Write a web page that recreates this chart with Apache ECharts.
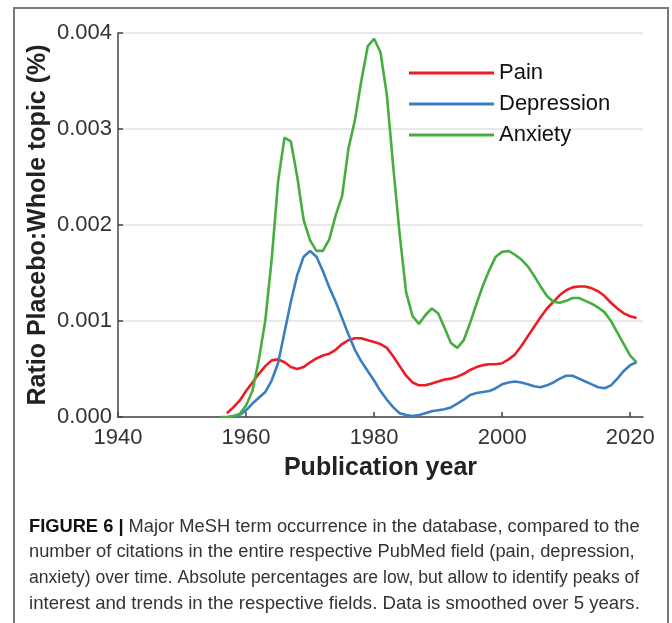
<!DOCTYPE html>
<html>
<head>
<meta charset="utf-8">
<script src="https://cdn.jsdelivr.net/npm/echarts@6/dist/echarts.min.js"></script>
<style>
html,body{margin:0;padding:0;background:#fff;}
#chart{width:672px;height:623px;}
</style>
</head>
<body>
<div id="chart"></div>
<script>
// ---- Data (ratio in %, yearly, smoothed over 5 years) ----
const xTicks = [1940, 1960, 1980, 2000, 2020];
const yTicks = [0, 0.001, 0.002, 0.003, 0.004];

const painStart = 1957;
const painValues = [
  0.00004, 0.00010, 0.00017, 0.00027, 0.00036, 0.00045, 0.00053, 0.00059, 0.00060, 0.00057,
  0.00052, 0.00050, 0.00052, 0.00057, 0.00061, 0.00064, 0.00066, 0.00070, 0.00076, 0.00080,
  0.00082, 0.00082, 0.00080, 0.00078, 0.00076, 0.00072, 0.00063, 0.00053, 0.00043, 0.00036,
  0.00033, 0.00033, 0.00035, 0.00037, 0.00039, 0.00040, 0.00042, 0.00045, 0.00049, 0.00052,
  0.00054, 0.00055, 0.00055, 0.00056, 0.00060, 0.00065, 0.00074, 0.00084, 0.00094, 0.00104,
  0.00113, 0.00120, 0.00127, 0.00132, 0.00135, 0.00136, 0.00136, 0.00134, 0.00131, 0.00126,
  0.00119, 0.00113, 0.00108, 0.00105, 0.00103
];

const depressionStart = 1958;
const depressionValues = [
  0.00000, 0.00002, 0.00007, 0.00014, 0.00020, 0.00026, 0.00038, 0.00056, 0.00088, 0.00120,
  0.00148, 0.00167, 0.00173, 0.00167, 0.00152, 0.00135, 0.00120, 0.00103, 0.00086, 0.00070,
  0.00058, 0.00048, 0.00038, 0.00027, 0.00018, 0.00010, 0.00004, 0.00002, 0.00001, 0.00002,
  0.00004, 0.00006, 0.00007, 0.00008, 0.00010, 0.00014, 0.00018, 0.00023, 0.00025, 0.00026,
  0.00027, 0.00030, 0.00034, 0.00036, 0.00037, 0.00036, 0.00034, 0.00032, 0.00031, 0.00033,
  0.00036, 0.00040, 0.00043, 0.00043, 0.00040, 0.00037, 0.00034, 0.00031, 0.00030, 0.00033,
  0.00040, 0.00048, 0.00054, 0.00057
];

const anxietyStart = 1956;
const anxietyValues = [
  0.00000, 0.00000, 0.00001, 0.00003, 0.00012, 0.00027, 0.00060, 0.00100, 0.00164, 0.00245,
  0.00291, 0.00287, 0.00250, 0.00205, 0.00184, 0.00173, 0.00173, 0.00185, 0.00210, 0.00230,
  0.00280, 0.00309, 0.00350, 0.00386, 0.00394, 0.00380, 0.00335, 0.00260, 0.00190, 0.00130,
  0.00105, 0.00097, 0.00106, 0.00113, 0.00108, 0.00093, 0.00077, 0.00072, 0.00080, 0.00098,
  0.00118, 0.00137, 0.00153, 0.00167, 0.00172, 0.00173, 0.00169, 0.00164, 0.00157, 0.00147,
  0.00136, 0.00126, 0.00120, 0.00119, 0.00121, 0.00124, 0.00124, 0.00121, 0.00118, 0.00114,
  0.00109, 0.00100, 0.00088, 0.00076, 0.00064, 0.00057
];

const seriesNames = ['Pain', 'Depression', 'Anxiety'];
const seriesColors = ['#ec1c24', '#3a7ec2', '#46ae3f'];

const captionBold = 'FIGURE 6 |';
const captionLines = [
  ' Major MeSH term occurrence in the database, compared to the',
  'number of citations in the entire respective PubMed field (pain, depression,',
  'anxiety) over time. Absolute percentages are low, but allow to identify peaks of',
  'interest and trends in the respective fields. Data is smoothed over 5 years.'
];

function pairs(start, vals) {
  return vals.map((v, i) => [start + i, v]);
}

const FONT = '"Liberation Sans", Arial, Helvetica, sans-serif';
const chart = echarts.init(document.getElementById('chart'), null, {renderer: 'canvas'});

const starts = [painStart, depressionStart, anxietyStart];
const valuesList = [painValues, depressionValues, anxietyValues];

const capSizes = [18.3, 18.3, 17.6, 18.6];
const capRich = {
  b: {fontWeight: 'bold', fill: '#111', fontSize: 18.3, fontFamily: FONT, lineHeight: 25.6}
};
capSizes.forEach((s, i) => {
  capRich['l' + i] = {fontSize: s, fontFamily: FONT, fill: '#333', lineHeight: 25.6};
});
const captionText = '{b|' + captionBold + '}{l0|' + captionLines[0] + '}\n' +
  captionLines.slice(1).map((t, i) => '{l' + (i + 1) + '|' + t + '}').join('\n');

chart.setOption({
  backgroundColor: '#fff',
  animation: false,
  textStyle: {fontFamily: FONT},
  grid: {left: 118, right: 29, top: 33, bottom: 206, containLabel: false},
  legend: {
    data: seriesNames,
    orient: 'vertical',
    left: 404,
    top: 56,
    icon: 'rect',
    itemWidth: 85,
    itemHeight: 3,
    itemGap: 7,
    textStyle: {fontSize: 22, color: '#111', fontFamily: FONT, lineHeight: 24}
  },
  xAxis: {
    type: 'value',
    min: 1940,
    max: 2022,
    interval: 20,
    name: 'Publication year',
    nameLocation: 'middle',
    nameGap: 39,
    nameMoveOverlap: false,
    nameTextStyle: {fontSize: 25, fontWeight: 'bold', color: '#222', fontFamily: FONT},
    axisLine: {show: true, onZero: false, lineStyle: {color: '#444', width: 1.5}},
    axisTick: {show: true, inside: true, length: 5, lineStyle: {color: '#444', width: 1.5}, customValues: xTicks},
    axisLabel: {fontSize: 22, color: '#333', margin: 10, fontFamily: FONT, customValues: xTicks,
      formatter: v => String(v)},
    splitLine: {show: false}
  },
  yAxis: {
    type: 'value',
    min: 0,
    max: 0.004,
    interval: 0.001,
    name: 'Ratio Placebo:Whole topic (%)',
    nameLocation: 'middle',
    nameRotate: 90,
    nameGap: 67,
    nameMoveOverlap: false,
    nameTextStyle: {fontSize: 25, fontWeight: 'bold', color: '#222', fontFamily: FONT},
    axisLine: {show: true, lineStyle: {color: '#444', width: 1.5}},
    axisTick: {show: true, inside: true, length: 5, lineStyle: {color: '#444', width: 1.5}},
    axisLabel: {fontSize: 22, color: '#333', margin: 6, fontFamily: FONT,
      formatter: v => v.toFixed(3)},
    splitLine: {show: true, lineStyle: {color: '#e2e2e2', width: 1.5}}
  },
  series: seriesNames.map((name, k) => ({
    name: name,
    type: 'line',
    symbol: 'none',
    smooth: false,
    data: pairs(starts[k], valuesList[k]),
    lineStyle: {color: seriesColors[k], width: 2.6},
    itemStyle: {color: seriesColors[k]},
    z: 3 + k
  })),
  graphic: [
    {
      type: 'rect',
      shape: {x: 14, y: 8, width: 654, height: 640},
      style: {fill: 'none', stroke: '#7a7a7a', lineWidth: 2},
      silent: true
    },
    {
      type: 'text',
      left: 29,
      top: 514,
      style: {
        text: captionText,
        font: '18.3px ' + FONT,
        fill: '#333',
        lineHeight: 25.6,
        rich: capRich
      },
      silent: true
    }
  ]
});
</script>
</body>
</html>
